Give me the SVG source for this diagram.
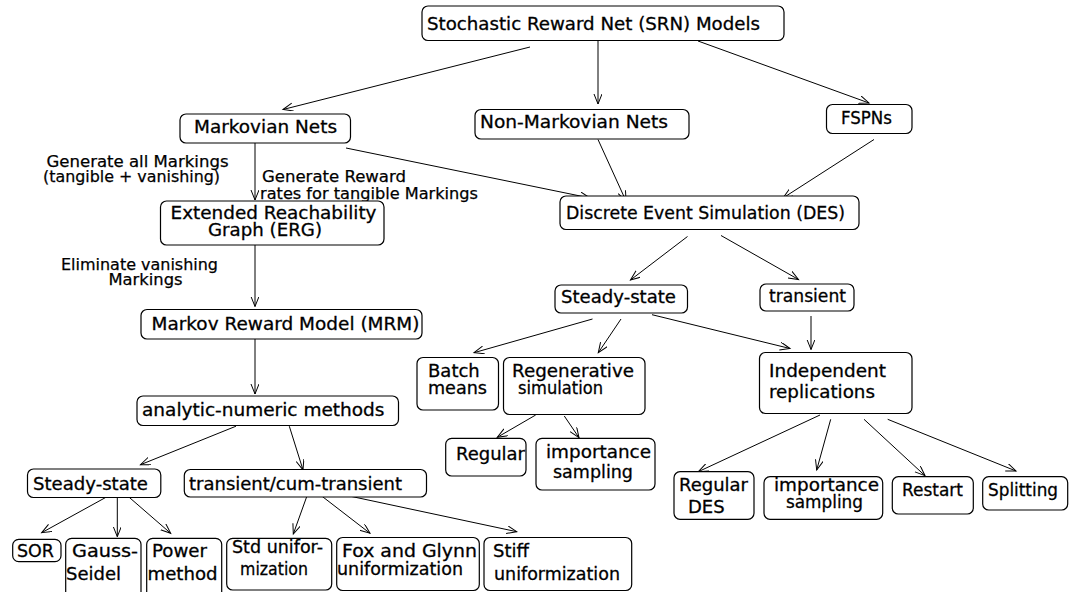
<svg xmlns="http://www.w3.org/2000/svg" width="1079" height="592" viewBox="0 0 1079 592">
<style>
.box{fill:#fff;stroke:#000;stroke-width:1.2}
.t{font-family:"DejaVu Sans","Liberation Sans",sans-serif;font-size:18px;fill:#000;stroke:#000;stroke-width:0.3}
.l{font-family:"DejaVu Sans","Liberation Sans",sans-serif;font-size:16px;fill:#000;stroke:#000;stroke-width:0.25}
#connectors line{stroke:#000;stroke-width:1;marker-end:url(#ah)}
</style>
<defs>
<marker id="ah" markerUnits="userSpaceOnUse" markerWidth="12" markerHeight="10" refX="10" refY="4" orient="auto">
<path d="M0,0 L10,4 L0,8" fill="none" stroke="#000" stroke-width="1"/>
</marker>
</defs>
<rect width="1079" height="592" fill="#fff"/>
<g id="connectors">
<line x1="530" y1="47" x2="283" y2="109.5"/>
<line x1="598" y1="41" x2="598" y2="104"/>
<line x1="698" y1="41" x2="869" y2="103"/>
<line x1="255" y1="143" x2="255" y2="200"/>
<line x1="346" y1="148" x2="590" y2="198"/>
<line x1="598" y1="139.5" x2="626" y2="201"/>
<line x1="874" y1="139.5" x2="783" y2="198"/>
<line x1="255" y1="245" x2="255" y2="306.5"/>
<line x1="255" y1="339" x2="255" y2="394"/>
<line x1="687.5" y1="236.5" x2="630.5" y2="280"/>
<line x1="721" y1="235.5" x2="798.5" y2="279.5"/>
<line x1="592.5" y1="319" x2="474" y2="352.7"/>
<line x1="621" y1="319" x2="598.3" y2="352.7"/>
<line x1="652" y1="314.7" x2="790" y2="348.5"/>
<line x1="811" y1="316" x2="811" y2="349.5"/>
<line x1="535.7" y1="415" x2="497.3" y2="437.3"/>
<line x1="564.3" y1="416" x2="579" y2="437.7"/>
<line x1="236" y1="426.2" x2="140.5" y2="464.7"/>
<line x1="289.3" y1="426.2" x2="303" y2="469.9"/>
<line x1="108.3" y1="496" x2="41.7" y2="532.7"/>
<line x1="117.3" y1="496" x2="117.3" y2="536.7"/>
<line x1="127.7" y1="496" x2="170.7" y2="533.3"/>
<line x1="307.3" y1="495" x2="293.3" y2="534"/>
<line x1="321.7" y1="496" x2="370" y2="533.3"/>
<line x1="340" y1="494" x2="516.7" y2="531.7"/>
<line x1="820" y1="415" x2="698.3" y2="471.7"/>
<line x1="830.7" y1="419.3" x2="816.7" y2="470"/>
<line x1="864" y1="419.3" x2="925" y2="475.7"/>
<line x1="887.7" y1="419.3" x2="1016" y2="471"/>
</g>
<g id="edge-labels">
<text class="l" x="46.5" y="167" textLength="182" lengthAdjust="spacingAndGlyphs">Generate all Markings</text>
<text class="l" x="43" y="181.5" textLength="177" lengthAdjust="spacingAndGlyphs">(tangible + vanishing)</text>
<text class="l" x="262" y="182" textLength="144" lengthAdjust="spacingAndGlyphs">Generate Reward</text>
<text class="l" x="260" y="198.5" textLength="218" lengthAdjust="spacingAndGlyphs">rates for tangible Markings</text>
<text class="l" x="61" y="269.5" textLength="157" lengthAdjust="spacingAndGlyphs">Eliminate vanishing</text>
<text class="l" x="108.5" y="284.5" textLength="74" lengthAdjust="spacingAndGlyphs">Markings</text>
</g>
<g id="srn"><rect class="box" x="422" y="6" width="362" height="34.5" rx="6"/><text class="t" x="427" y="30" textLength="333" lengthAdjust="spacingAndGlyphs">Stochastic Reward Net (SRN) Models</text></g>
<g id="markovian"><rect class="box" x="180" y="114" width="170.5" height="29" rx="6"/><text class="t" x="194" y="133" textLength="143" lengthAdjust="spacingAndGlyphs">Markovian Nets</text></g>
<g id="nonmarkovian"><rect class="box" x="475" y="109.5" width="214" height="29.5" rx="6"/><text class="t" x="480" y="128" textLength="188" lengthAdjust="spacingAndGlyphs">Non-Markovian Nets</text></g>
<g id="fspns"><rect class="box" x="826.5" y="104.5" width="85.5" height="29" rx="6"/><text class="t" x="841" y="124" textLength="51" lengthAdjust="spacingAndGlyphs">FSPNs</text></g>
<g id="erg"><rect class="box" x="160.5" y="201" width="223.5" height="44" rx="6"/><text class="t" x="170.5" y="219" textLength="206" lengthAdjust="spacingAndGlyphs">Extended Reachability</text><text class="t" x="208" y="236" textLength="114" lengthAdjust="spacingAndGlyphs">Graph (ERG)</text></g>
<g id="des"><rect class="box" x="560" y="196" width="299" height="33.5" rx="6"/><text class="t" x="566" y="219" textLength="279" lengthAdjust="spacingAndGlyphs">Discrete Event Simulation (DES)</text></g>
<g id="mrm"><rect class="box" x="141" y="309.5" width="281" height="29.5" rx="6"/><text class="t" x="151.5" y="329.5" textLength="268" lengthAdjust="spacingAndGlyphs">Markov Reward Model (MRM)</text></g>
<g id="des-steady"><rect class="box" x="555" y="285" width="132.5" height="28" rx="6"/><text class="t" x="561" y="303" textLength="115" lengthAdjust="spacingAndGlyphs">Steady-state</text></g>
<g id="des-transient"><rect class="box" x="760" y="284" width="94" height="27" rx="6"/><text class="t" x="769" y="302" textLength="77" lengthAdjust="spacingAndGlyphs">transient</text></g>
<g id="batch"><rect class="box" x="417" y="357.5" width="81.5" height="52.5" rx="6"/><text class="t" x="428" y="377">Batch</text><text class="t" x="428" y="394" textLength="59" lengthAdjust="spacingAndGlyphs">means</text></g>
<g id="regen"><rect class="box" x="503.5" y="357.5" width="141.5" height="57" rx="6"/><text class="t" x="512" y="377" textLength="122" lengthAdjust="spacingAndGlyphs">Regenerative</text><text class="t" x="518" y="394" textLength="85" lengthAdjust="spacingAndGlyphs">simulation</text></g>
<g id="indep"><rect class="box" x="759.5" y="352.5" width="152.5" height="61" rx="6"/><text class="t" x="769" y="376.5" textLength="117" lengthAdjust="spacingAndGlyphs">Independent</text><text class="t" x="769" y="398" textLength="106" lengthAdjust="spacingAndGlyphs">replications</text></g>
<g id="analytic"><rect class="box" x="137" y="396" width="261.5" height="29.5" rx="6"/><text class="t" x="142" y="415.5" textLength="242.5" lengthAdjust="spacingAndGlyphs">analytic-numeric methods</text></g>
<g id="regen-regular"><rect class="box" x="445.7" y="438.3" width="80.3" height="37.7" rx="6"/><text class="t" x="456" y="460" textLength="69" lengthAdjust="spacingAndGlyphs">Regular</text></g>
<g id="regen-importance"><rect class="box" x="536" y="438.3" width="119" height="51.7" rx="6"/><text class="t" x="546" y="457.5" textLength="105" lengthAdjust="spacingAndGlyphs">importance</text><text class="t" x="553" y="478" textLength="80" lengthAdjust="spacingAndGlyphs">sampling</text></g>
<g id="an-steady"><rect class="box" x="27.5" y="469" width="133.3" height="28.5" rx="6"/><text class="t" x="33" y="490" textLength="115" lengthAdjust="spacingAndGlyphs">Steady-state</text></g>
<g id="an-transient"><rect class="box" x="184.3" y="469.5" width="242.2" height="27.5" rx="6"/><text class="t" x="189" y="490" textLength="213" lengthAdjust="spacingAndGlyphs">transient/cum-transient</text></g>
<g id="sor"><rect class="box" x="12.7" y="539.3" width="48.3" height="22.4" rx="6"/><text class="t" x="17" y="557" textLength="37" lengthAdjust="spacingAndGlyphs">SOR</text></g>
<g id="gauss"><rect class="box" x="65.7" y="538.3" width="75.3" height="62" rx="6"/><text class="t" x="72" y="557" textLength="66" lengthAdjust="spacingAndGlyphs">Gauss-</text><text class="t" x="66" y="580" textLength="55" lengthAdjust="spacingAndGlyphs">Seidel</text></g>
<g id="power"><rect class="box" x="146.7" y="538.3" width="75" height="62" rx="6"/><text class="t" x="152" y="557" textLength="55" lengthAdjust="spacingAndGlyphs">Power</text><text class="t" x="147.5" y="580" textLength="70" lengthAdjust="spacingAndGlyphs">method</text></g>
<g id="std-unif"><rect class="box" x="226.7" y="538.3" width="105" height="51.7" rx="6"/><text class="t" x="232" y="553" textLength="91" lengthAdjust="spacingAndGlyphs">Std unifor-</text><text class="t" x="240" y="575" textLength="68" lengthAdjust="spacingAndGlyphs">mization</text></g>
<g id="fox-glynn"><rect class="box" x="336.7" y="537.5" width="142.6" height="53" rx="6"/><text class="t" x="342" y="557" textLength="135" lengthAdjust="spacingAndGlyphs">Fox and Glynn</text><text class="t" x="337" y="575" textLength="126" lengthAdjust="spacingAndGlyphs">uniformization</text></g>
<g id="stiff-unif"><rect class="box" x="484" y="537.5" width="147.7" height="53" rx="6"/><text class="t" x="493" y="557">Stiff</text><text class="t" x="494" y="580" textLength="126" lengthAdjust="spacingAndGlyphs">uniformization</text></g>
<g id="regular-des"><rect class="box" x="674" y="471.7" width="80" height="47.6" rx="6"/><text class="t" x="679" y="491" textLength="69" lengthAdjust="spacingAndGlyphs">Regular</text><text class="t" x="688" y="513">DES</text></g>
<g id="ir-importance"><rect class="box" x="764" y="476.7" width="118.7" height="42.6" rx="6"/><text class="t" x="774" y="491" textLength="105" lengthAdjust="spacingAndGlyphs">importance</text><text class="t" x="786" y="508" textLength="77" lengthAdjust="spacingAndGlyphs">sampling</text></g>
<g id="restart"><rect class="box" x="892.3" y="476.7" width="81" height="37.3" rx="6"/><text class="t" x="902" y="496" textLength="61" lengthAdjust="spacingAndGlyphs">Restart</text></g>
<g id="splitting"><rect class="box" x="982.7" y="476.7" width="85" height="33.3" rx="6"/><text class="t" x="988" y="496" textLength="70" lengthAdjust="spacingAndGlyphs">Splitting</text></g>
</svg>
